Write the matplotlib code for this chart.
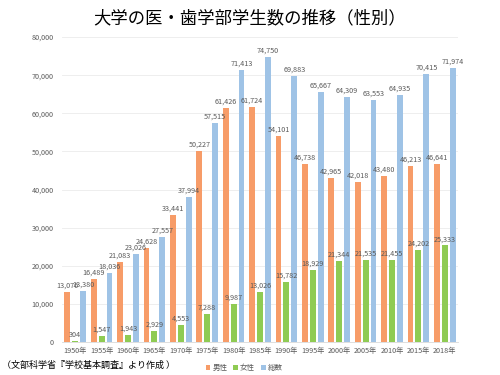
import numpy as np
import matplotlib.pyplot as plt

plt.rcParams['font.family'] = ['Noto Sans CJK JP', 'DejaVu Sans']

years = ['1950年', '1955年', '1960年', '1965年', '1970年', '1975年', '1980年', '1985年',
         '1990年', '1995年', '2000年', '2005年', '2010年', '2015年', '2018年']
male = [13076, 16489, 21083, 24628, 33441, 50227, 61426, 61724,
        54101, 46738, 42965, 42018, 43480, 46213, 46641]
female = [304, 1547, 1943, 2929, 4553, 7288, 9987, 13026,
          15782, 18929, 21344, 21535, 21455, 24202, 25333]
total = [13380, 18036, 23026, 27557, 37994, 57515, 71413, 74750,
         69883, 65667, 64309, 63553, 64935, 70415, 71974]

c_male = '#F79C68'
c_female = '#8FCB53'
c_total = '#9FC3E6'
label_col = '#595959'

fig = plt.figure(figsize=(5, 3.75), dpi=100)
ax = fig.add_axes([0.124, 0.088, 0.792, 0.813])

x = np.arange(len(years))
w = 0.22
off = 0.3
series = [(male, c_male, -off, '男性'), (female, c_female, 0, '女性'), (total, c_total, off, '総数')]
for vals, col, dx, name in series:
    ax.bar(x + dx, vals, width=w, color=col, label=name, zorder=2)
    for xi, v in zip(x, vals):
        ax.text(xi + dx, v + 600, f'{v:,}', ha='center', va='bottom',
                fontsize=5.2, color=label_col, zorder=3)

ax.set_xlim(-0.5, len(years) - 0.5)
ax.set_ylim(0, 80000)
ax.set_yticks(range(0, 80001, 10000))
ax.set_yticklabels([f'{v:,}' for v in range(0, 80001, 10000)])
ax.set_xticks(x)
ax.set_xticklabels(years)
ax.tick_params(axis='both', length=0, labelsize=5.2, labelcolor=label_col)
ax.tick_params(axis='y', pad=6)
ax.grid(axis='y', color='#EBEBEB', linewidth=0.6, zorder=0)
for s in ['top', 'right', 'left']:
    ax.spines[s].set_visible(False)
ax.spines['bottom'].set_color('#D9D9D9')
ax.spines['bottom'].set_linewidth(0.6)

fig.text(0.5, 0.952, '大学の医・歯学部学生数の推移（性別）', ha='center', va='center', fontsize=12.5)
fig.text(0.004, 0.027, '（文部科学省『学校基本調査』より作成 ）', ha='left', va='center', fontsize=6.5)

ax.legend(loc='center', bbox_to_anchor=(0.46, -0.085), ncol=3, frameon=False,
          fontsize=5.4, handlelength=0.6, handleheight=0.6, handletextpad=0.3,
          columnspacing=0.8, labelcolor=label_col)

fig.savefig('out.png', dpi=100)
